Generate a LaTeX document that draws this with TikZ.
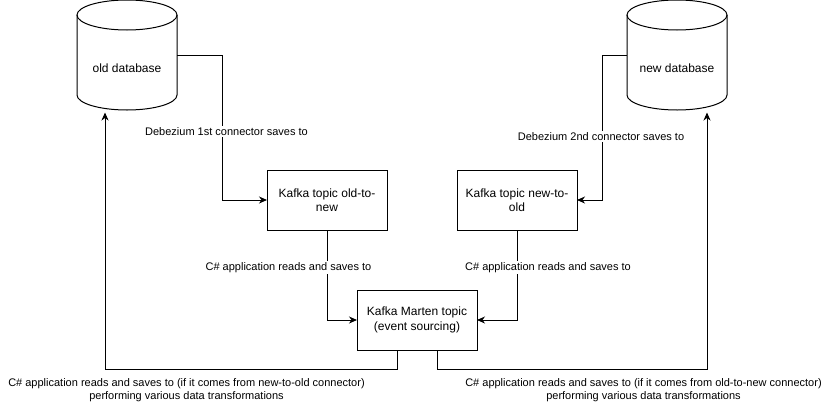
\documentclass[tikz,border=0pt]{standalone}
\usepackage{fontspec}
\setmainfont{Liberation Sans}
\usetikzlibrary{arrows.meta,calc}
\begin{document}
\begin{tikzpicture}[x=1pt,y=-1pt,
  every node/.style={inner sep=0pt, outer sep=0pt},
  boxnode/.style={draw, line width=1pt, minimum width=120pt, minimum height=60pt, align=center,
    font=\fontsize{12pt}{14.5pt}\selectfont},
  dbnode/.style={minimum width=100pt, minimum height=110pt},
  dblabel/.style={font=\fontsize{12pt}{14pt}\selectfont},
  elabel/.style={fill=white, inner sep=1pt, align=center, font=\fontsize{11pt}{13pt}\selectfont},
  conn/.style={line width=1pt, -{Stealth[length=8pt,width=7pt,inset=2.5pt]}},
  cyl/.style={line width=1pt}
]
\useasboundingbox (0,0) rectangle (823,405);

% databases (frames for connectors)
\node[dbnode] (olddb) at (127,55) {};
\node[dbnode] (newdb) at (677,55) {};
% cylinder outlines
\foreach \c in {olddb,newdb}{
  \draw[cyl] ($(\c.north)+(0,15)$) ellipse [x radius=50pt, y radius=15pt];
  \draw[cyl] ($(\c.north west)+(0,15)$) -- ($(\c.south west)+(0,-15)$)
     arc[start angle=180, end angle=360, x radius=50pt, y radius=15pt]
     -- ($(\c.north east)+(0,15)$);
}
\node[dblabel] (oldlbl) at (127,68.5) {old database};
\node[dblabel] (newlbl) at (677,68.5) {new database};

% boxes
\node[boxnode] (k1) at (327,200) {Kafka topic old-to-\\new};
\node[boxnode] (k2) at (517,200) {Kafka topic new-to-\\old};
\node[boxnode] (m) at (417,320) {Kafka Marten topic\\(event sourcing)};

% bend coordinates
\coordinate (c1) at (222,0);
\coordinate (c2) at (602.5,0);

% connectors
\draw[conn] (olddb.east) -| (c1 |- k1.west) -- (k1.west);
\draw[conn] (newdb.west) -| (c2 |- k2.east) -- (k2.east);
\draw[conn] (k1.south) |- (m.west);
\draw[conn] (k2.south) |- (m.east);
\draw[conn] ($(m.south)+(-20,0)$) -- ++(0,19.5) -| ($(olddb.south)+(-22,2.5)$);
\draw[conn] ($(m.south)+(20,0)$) -- ++(0,19.5) -| ($(newdb.south)+(30,2.5)$);

% labels
\node[elabel] (l1) at (226.5,131.5) {Debezium 1st connector saves to};
\node[elabel] (l2) at (601,136.5) {Debezium 2nd connector saves to};
\node[elabel] (l3) at (288.5,267.5) {C\# application reads and saves to};
\node[elabel] (l4) at (548,267.5) {C\# application reads and saves to};
\node[elabel] (l5) at (186.5,390.5) {C\# application reads and saves to (if it comes from new-to-old connector)\\performing various data transformations};
\node[elabel] (l6) at (643.5,390.5) {C\# application reads and saves to (if it comes from old-to-new connector)\\performing various data transformations};
\end{tikzpicture}
\end{document}
